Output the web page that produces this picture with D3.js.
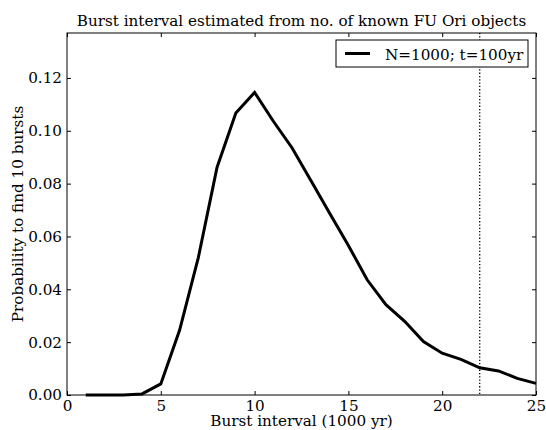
<!DOCTYPE html>
<html>
<head>
<meta charset="utf-8">
<script src="https://cdn.jsdelivr.net/npm/d3@7/dist/d3.min.js"></script>
<style>
  body { margin: 0; background: #fff; }
  text { font-family: "DejaVu Serif", serif; fill: #000; }
</style>
</head>
<body>
<div id="chart-area"></div>
<script>
// data
const intervals = [1, 2, 3, 4, 5, 6, 7, 8, 9, 10, 11, 12, 13, 14, 15, 16, 17, 18, 19, 20, 21, 22, 23, 24, 25]
const probs = [0, 0, 0, 0.0004, 0.0042, 0.0245, 0.052, 0.0862, 0.1067, 0.1145, 0.1036, 0.0935, 0.0812, 0.0688, 0.0566,
  0.0436, 0.0342, 0.0279, 0.0202, 0.0158, 0.0135, 0.0103, 0.0091, 0.0063, 0.0044]
const xTicks = [0, 5, 10, 15, 20, 25]
const yTicks = [0, 0.02, 0.04, 0.06, 0.08, 0.10, 0.12]
const markerX = 22
const legendLabel = "N=1000; t=100yr"

const W = 546, H = 430
const MARGIN = { LEFT: 67, RIGHT: 10, TOP: 33, BOTTOM: 35 }
const WIDTH = W - MARGIN.LEFT - MARGIN.RIGHT
const HEIGHT = H - MARGIN.TOP - MARGIN.BOTTOM
const FONT = "15.2px"

const svg = d3.select("#chart-area").append("svg")
  .attr("width", W)
  .attr("height", H)

const g = svg.append("g")
  .attr("transform", `translate(${MARGIN.LEFT}, ${MARGIN.TOP})`)

// scales
const x = d3.scaleLinear().domain([0, 25]).range([0, WIDTH])
const y = d3.scaleLinear().domain([0, 0.137]).range([HEIGHT, 0])

// axes, ticks pointing inward like matplotlib classic
g.append("g")
  .attr("transform", `translate(0, ${HEIGHT})`)
  .call(d3.axisBottom(x).tickValues(xTicks).tickSizeInner(-4).tickSizeOuter(0).tickPadding(5).tickFormat(d3.format("d")))
g.append("g")
  .call(d3.axisLeft(y).tickValues(yTicks).tickSizeInner(-4).tickSizeOuter(0).tickPadding(5).tickFormat(d3.format(".2f")))
g.append("g")
  .call(d3.axisTop(x).tickValues(xTicks).tickSizeInner(-4).tickSizeOuter(0).tickFormat(""))
g.append("g")
  .attr("transform", `translate(${WIDTH}, 0)`)
  .call(d3.axisRight(y).tickValues(yTicks).tickSizeInner(-4).tickSizeOuter(0).tickFormat(""))

svg.selectAll(".domain").remove()
svg.selectAll(".tick line").attr("stroke", "#000")
svg.selectAll(".tick text").attr("font-size", FONT).attr("font-family", "DejaVu Serif")

// vertical dotted marker
g.append("line")
  .attr("x1", x(markerX)).attr("x2", x(markerX))
  .attr("y1", 0).attr("y2", HEIGHT)
  .attr("stroke", "#000")
  .attr("stroke-width", 1.3)
  .attr("stroke-dasharray", "1.3,2")

// line path
const line = d3.line()
  .x((d, i) => x(intervals[i]))
  .y(d => y(d))

g.append("path")
  .attr("fill", "none")
  .attr("stroke", "#000")
  .attr("stroke-width", 3)
  .attr("d", line(probs))

// frame
g.append("rect")
  .attr("width", WIDTH)
  .attr("height", HEIGHT)
  .attr("fill", "none")
  .attr("stroke", "#000")
  .attr("stroke-width", 1)

// legend
const legend = g.append("g").attr("transform", `translate(${WIDTH - 200}, 7)`)
legend.append("rect")
  .attr("width", 192).attr("height", 27)
  .attr("fill", "#fff").attr("stroke", "#000").attr("stroke-width", 1)
legend.append("line")
  .attr("x1", 9).attr("x2", 34).attr("y1", 13.5).attr("y2", 13.5)
  .attr("stroke", "#000").attr("stroke-width", 3)
legend.append("text")
  .attr("x", 49).attr("y", 19.5)
  .attr("font-size", FONT)
  .text(legendLabel)

// title and axis labels
svg.append("text")
  .attr("x", MARGIN.LEFT + WIDTH / 2).attr("y", 26)
  .attr("text-anchor", "middle")
  .attr("font-size", FONT)
  .text("Burst interval estimated from no. of known FU Ori objects")

svg.append("text")
  .attr("x", MARGIN.LEFT + WIDTH / 2).attr("y", 426)
  .attr("text-anchor", "middle")
  .attr("font-size", FONT)
  .text("Burst interval (1000 yr)")

svg.append("text")
  .attr("transform", `translate(23, ${MARGIN.TOP + HEIGHT / 2}) rotate(-90)`)
  .attr("text-anchor", "middle")
  .attr("font-size", FONT)
  .text("Probability to find 10 bursts")
</script>
</body>
</html>
